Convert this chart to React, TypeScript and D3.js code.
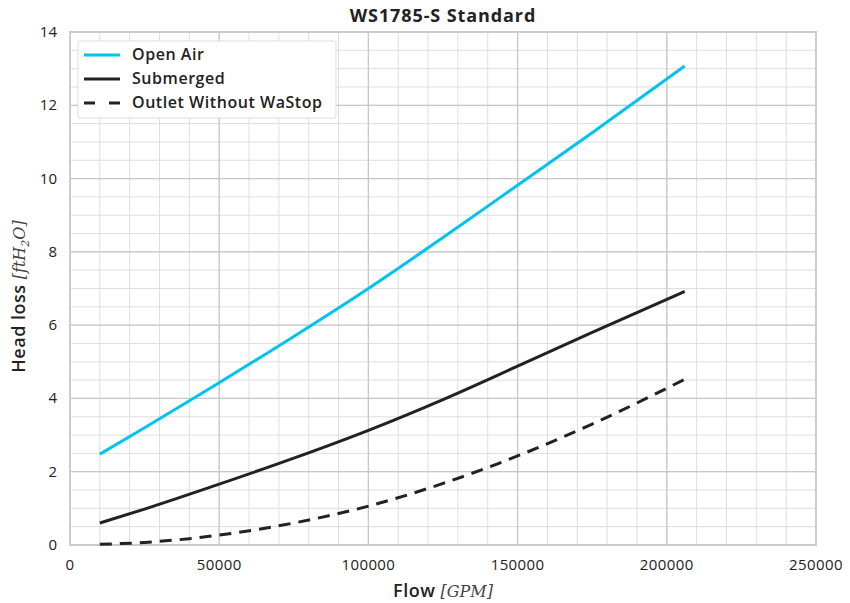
import { useEffect, useRef } from 'react';
import * as d3 from 'd3';

// flow values in GPM
const flow = [10000, 25000, 50000, 75000, 100000, 125000, 150000, 175000, 206000];
const openAir = [2.48, 3.2, 4.43, 5.69, 7.0, 8.39, 9.82, 11.25, 13.07];
const submerged = [0.6, 0.98, 1.66, 2.37, 3.13, 3.97, 4.88, 5.8, 6.92];
const outlet = [0.02, 0.07, 0.27, 0.6, 1.06, 1.68, 2.43, 3.3, 4.52];

const xTicks = [0, 50000, 100000, 150000, 200000, 250000];
const yTicks = [0, 2, 4, 6, 8, 10, 12, 14];

const series = [
  { name: 'Open Air', values: openAir, color: '#00c4ee', dash: '' },
  { name: 'Submerged', values: submerged, color: '#222222', dash: '' },
  { name: 'Outlet Without WaStop', values: outlet, color: '#222222', dash: '12,8' },
];

const FONT = '"Open Sans", sans-serif';

export default function App() {
  const svgRef = useRef<SVGSVGElement>(null);

  useEffect(() => {
    if (!svgRef.current) return;
    const width = 850;
    const height = 603;
    const margin = { top: 32, right: 34, bottom: 58, left: 70 };
    const innerWidth = width - margin.left - margin.right;
    const innerHeight = height - margin.top - margin.bottom;

    const svg = d3.select(svgRef.current);
    svg.selectAll('*').remove();
    svg.attr('width', width).attr('height', height);

    const g = svg.append('g').attr('transform', `translate(${margin.left},${margin.top})`);

    const x = d3.scaleLinear().domain([0, 250000]).range([0, innerWidth]);
    const y = d3.scaleLinear().domain([0, 14]).range([innerHeight, 0]);

    // minor grid
    g.append('g')
      .selectAll('line')
      .data(d3.range(0, 250001, 10000))
      .join('line')
      .attr('x1', (d) => x(d))
      .attr('x2', (d) => x(d))
      .attr('y1', 0)
      .attr('y2', innerHeight)
      .attr('stroke', '#dedede')
      .attr('stroke-width', 1);
    g.append('g')
      .selectAll('line')
      .data(d3.range(0, 14.01, 0.5))
      .join('line')
      .attr('x1', 0)
      .attr('x2', innerWidth)
      .attr('y1', (d) => y(d))
      .attr('y2', (d) => y(d))
      .attr('stroke', '#dedede')
      .attr('stroke-width', 1);

    // major grid
    g.append('g')
      .selectAll('line')
      .data(xTicks)
      .join('line')
      .attr('x1', (d) => x(d))
      .attr('x2', (d) => x(d))
      .attr('y1', 0)
      .attr('y2', innerHeight)
      .attr('stroke', '#c8c8c8')
      .attr('stroke-width', 1.3);
    g.append('g')
      .selectAll('line')
      .data(yTicks)
      .join('line')
      .attr('x1', 0)
      .attr('x2', innerWidth)
      .attr('y1', (d) => y(d))
      .attr('y2', (d) => y(d))
      .attr('stroke', '#c8c8c8')
      .attr('stroke-width', 1.3);

    g.append('rect')
      .attr('width', innerWidth)
      .attr('height', innerHeight)
      .attr('fill', 'none')
      .attr('stroke', '#cccccc')
      .attr('stroke-width', 2);

    // tick labels
    g.append('g')
      .selectAll('text')
      .data(xTicks)
      .join('text')
      .attr('x', (d) => x(d))
      .attr('y', innerHeight + 25)
      .attr('text-anchor', 'middle')
      .attr('fill', '#222')
      .style('font-family', FONT)
      .style('font-size', '15px')
      .style('font-weight', 500)
      .style('letter-spacing', '0.4px')
      .text((d) => String(d));
    g.append('g')
      .selectAll('text')
      .data(yTicks)
      .join('text')
      .attr('x', -13)
      .attr('y', (d) => y(d) + 5)
      .attr('text-anchor', 'end')
      .attr('fill', '#222')
      .style('font-family', FONT)
      .style('font-size', '15px')
      .style('font-weight', 500)
      .text((d) => String(d));

    // lines
    const line = d3
      .line<number>()
      .x((_, i) => x(flow[i]))
      .y((d) => y(d))
      .curve(d3.curveMonotoneX);

    series.forEach((s) => {
      g.append('path')
        .datum(s.values)
        .attr('fill', 'none')
        .attr('stroke', s.color)
        .attr('stroke-width', 3)
        .attr('stroke-dasharray', s.dash || null)
        .attr('d', line);
    });

    // legend
    const legend = g.append('g').attr('transform', 'translate(8,9)');
    legend
      .append('rect')
      .attr('width', 258)
      .attr('height', 77)
      .attr('rx', 2)
      .attr('fill', '#fff')
      .attr('stroke', '#dddddd')
      .attr('stroke-width', 1);
    series.forEach((s, i) => {
      const row = legend.append('g').attr('transform', `translate(0,${14 + i * 24})`);
      row
        .append('line')
        .attr('x1', 6)
        .attr('x2', 42)
        .attr('stroke', s.color)
        .attr('stroke-width', 3)
        .attr('stroke-dasharray', s.dash ? '11,14' : null);
      row
        .append('text')
        .attr('x', 54)
        .attr('y', 5)
        .attr('fill', '#222')
        .style('font-family', FONT)
        .style('font-size', '16px')
        .style('font-weight', 600)
        .style('letter-spacing', '0.55px')
        .text(s.name);
    });

    // title
    svg
      .append('text')
      .attr('x', margin.left + innerWidth / 2)
      .attr('y', 22)
      .attr('text-anchor', 'middle')
      .attr('fill', '#222')
      .style('font-family', FONT)
      .style('font-size', '18px')
      .style('font-weight', 700)
      .style('letter-spacing', '0.9px')
      .text('WS1785-S Standard');

    // x axis label
    const xl = svg
      .append('text')
      .attr('x', margin.left + innerWidth / 2)
      .attr('y', 597)
      .attr('text-anchor', 'middle')
      .attr('fill', '#222')
      .style('font-family', FONT)
      .style('font-size', '18px')
      .style('font-weight', 600)
      .style('letter-spacing', '0.5px');
    xl.append('tspan').text('Flow ');
    xl.append('tspan')
      .style('font-family', '"DejaVu Serif", serif')
      .style('font-weight', 400)
      .style('font-style', 'italic')
      .style('letter-spacing', '0px')
      .style('font-size', '16px')
      .attr('fill', '#444')
      .text('[GPM]');

    // y axis label
    const yl = svg
      .append('text')
      .attr('transform', `translate(25,${margin.top + innerHeight / 2 + 8}) rotate(-90)`)
      .attr('text-anchor', 'middle')
      .attr('fill', '#222')
      .style('font-family', FONT)
      .style('font-size', '18px')
      .style('font-weight', 600)
      .style('letter-spacing', '0.5px');
    yl.append('tspan').text('Head loss ');
    const ym = yl
      .append('tspan')
      .style('font-family', '"DejaVu Serif", serif')
      .style('font-weight', 400)
      .style('font-style', 'italic')
      .style('letter-spacing', '0px')
      .style('font-size', '16px')
      .attr('fill', '#444');
    ym.append('tspan').text('[ftH');
    ym.append('tspan').attr('dy', 4).style('font-size', '11px').text('2');
    ym.append('tspan').attr('dy', -4).text('O]');
  }, []);

  return (
    <div style={{ position: 'fixed', top: 0, left: 0 }}>
      <svg ref={svgRef} style={{ display: 'block', background: '#fff' }} />
    </div>
  );
}
